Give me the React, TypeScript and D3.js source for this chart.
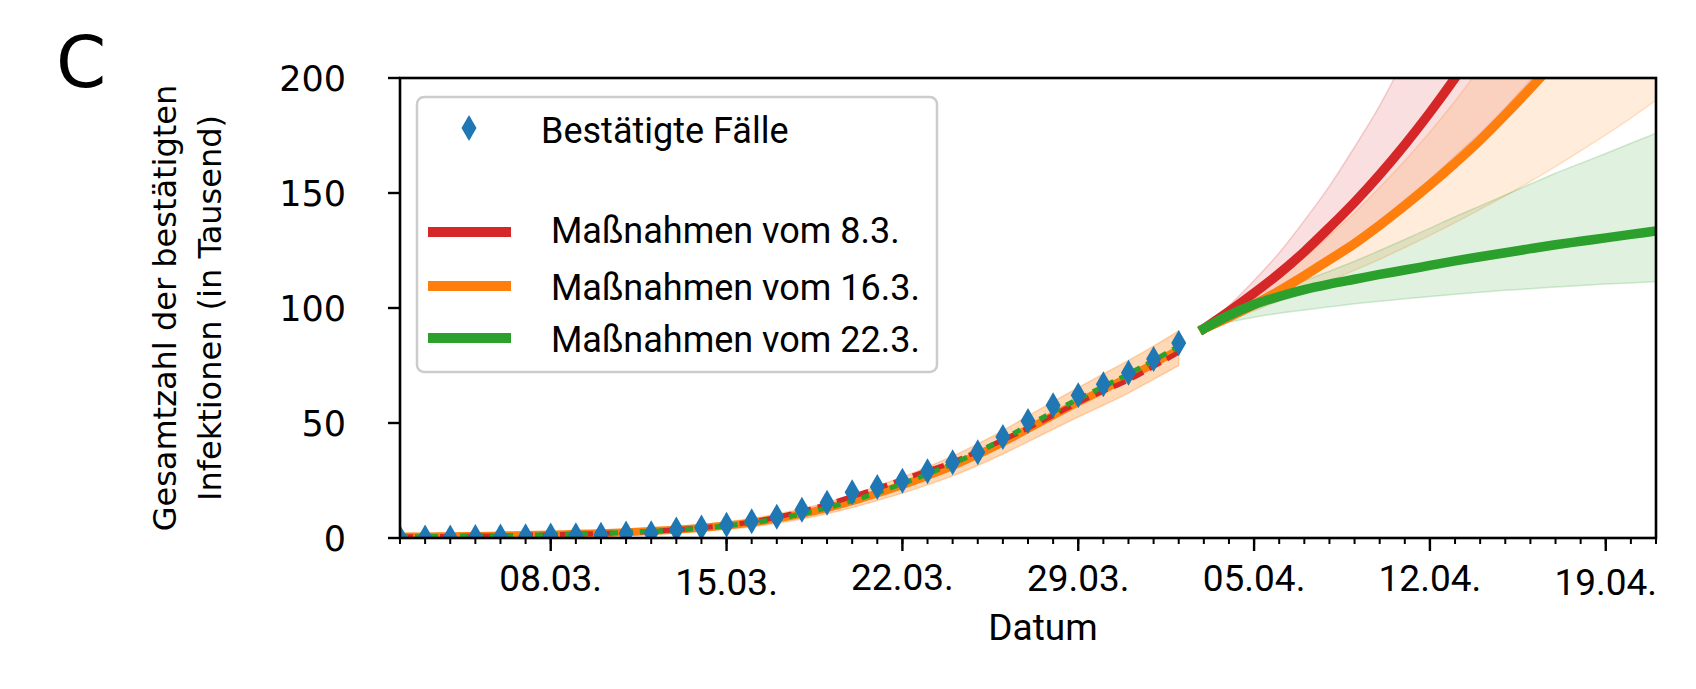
import React from 'react';
import * as d3 from 'd3';

// ---------- data (values in thousands) ----------
const START_DATE = '2020-03-02';
const END_DATE = '2020-04-21';
const FORECAST_START = '2020-04-03';

const confirmed = [0.159, 0.196, 0.262, 0.482, 0.67, 0.799, 1.04, 1.176, 1.457, 1.908, 2.078, 3.675, 4.585, 5.795, 7.272, 9.257, 12.327, 15.32, 19.848, 22.213, 24.873, 29.056, 32.986, 37.323, 43.938, 50.871, 57.695, 62.095, 66.885, 71.808, 77.872, 84.794];

const fitRed = [0.5, 0.6, 0.7, 0.8, 1.0, 1.2, 1.4, 1.7, 2.0, 2.4, 2.9, 3.6, 4.4, 5.5, 7.0, 9.0, 11.6, 14.6, 18.0, 21.6, 25.4, 29.2, 33.0, 37.6, 42.6, 47.7, 53.3, 58.9, 63.9, 68.7, 74.6, 80.8];
const fitOrange = [0.6, 0.7, 0.8, 0.9, 1.1, 1.3, 1.5, 1.8, 2.1, 2.5, 3.0, 3.6, 4.4, 5.4, 6.7, 8.4, 10.5, 13.0, 16.0, 19.4, 23.0, 27.0, 31.3, 36.2, 41.6, 47.4, 53.3, 59.0, 64.5, 70.0, 75.8, 82.0];
const fitGreen = [0.5, 0.6, 0.7, 0.8, 1.0, 1.2, 1.4, 1.7, 2.0, 2.4, 2.9, 3.5, 4.3, 5.3, 6.6, 8.3, 10.5, 13.1, 16.2, 19.7, 23.6, 27.8, 32.3, 37.3, 42.9, 48.9, 54.8, 60.4, 65.8, 71.3, 77.2, 83.4];
const fitOrangeHi = [1.2, 1.3, 1.5, 1.6, 1.9, 2.1, 2.4, 2.8, 3.2, 3.7, 4.3, 5.0, 5.9, 7.0, 8.5, 10.4, 12.7, 15.5, 18.8, 22.5, 26.5, 30.9, 35.6, 40.9, 46.7, 53.0, 59.3, 65.4, 71.3, 77.2, 83.4, 90.0];
const fitOrangeLo = [0.1, 0.1, 0.2, 0.2, 0.3, 0.5, 0.6, 0.8, 1.0, 1.3, 1.7, 2.2, 2.9, 3.8, 4.9, 6.4, 8.3, 10.5, 13.2, 16.3, 19.5, 23.1, 27.0, 31.5, 36.5, 41.8, 47.3, 52.6, 57.7, 63.0, 69.0, 75.0];

const fcRed = [91, 98.5, 106.5, 115, 124.5, 135, 146, 158, 171, 185, 200, 216, 234, 253, 274, 296, 320, 346, 374];
const fcRedHi = [91, 101, 112, 124, 138, 153, 170, 188, 209, 232, 257, 285, 316, 350, 388, 430, 477, 529, 586];
const fcRedLo = [91, 96.5, 102.5, 108.5, 115, 122, 130, 138, 147, 156, 166, 176, 187, 199, 211, 224, 238, 253, 268];
const fcOrange = [91, 96, 101.5, 107.5, 114, 121, 128, 136, 144.5, 153.5, 163, 173, 184, 195.5, 207.5, 220, 234, 248, 263];
const fcOrangeHi = [91, 98, 105.5, 113.5, 122, 131.5, 141.5, 152.5, 164, 176.5, 190, 204.5, 220, 237, 255, 274.5, 295.5, 318, 342];
const fcOrangeLo = [91, 94.8, 98.8, 103, 107.2, 111.7, 116.4, 121.2, 126.3, 131.6, 137.1, 142.9, 148.8, 155, 161.5, 168.3, 175.3, 182.6, 190.3];
const fcGreen = [91, 96.8, 101.5, 105, 108, 110.4, 112.5, 114.6, 116.5, 118.5, 120.5, 122.3, 124, 125.8, 127.5, 129, 130.5, 132, 133.5];
const fcGreenHi = [91.5, 97.5, 102.8, 107.5, 111.8, 116, 120.3, 125, 129.8, 134.7, 139.7, 144.4, 149.1, 153.9, 158.6, 162.9, 167.2, 171.6, 176];
const fcGreenLo = [91, 93.8, 96, 97.7, 99.1, 100.5, 101.8, 102.9, 104, 105, 106, 106.9, 107.7, 108.4, 109.1, 109.8, 110.4, 110.9, 111.4];

const yTicks = [0, 50, 100, 150, 200];
const xTickDates = ['2020-03-08', '2020-03-15', '2020-03-22', '2020-03-29', '2020-04-05', '2020-04-12', '2020-04-19'];
const xTickLabels = ['08.03.', '15.03.', '22.03.', '29.03.', '05.04.', '12.04.', '19.04.'];
const xTickLabelShift = [0, 4, -1, 0, 0, 0, 4];

const legendLabels = ['Bestätigte Fälle', ' Maßnahmen vom 8.3.', ' Maßnahmen vom 16.3.', ' Maßnahmen vom 22.3.'];
const COLORS = { blue: '#1f77b4', red: '#d62728', orange: '#ff7f0e', green: '#2ca02c' };

const DAY = 86400000;
const dateAt = (start: string, i: number) => new Date(Date.parse(start) + i * DAY);

export default function App() {
  const W = 1696, H = 689;
  const L = 400, R = 1656, T = 78, B = 538;
  const x = d3.scaleUtc().domain([new Date(START_DATE), new Date(END_DATE)]).range([L, R]);
  const y = d3.scaleLinear().domain([0, 200]).range([B, T]);

  const lineFrom = (start: string) => d3.line<number>().x((_, i) => x(dateAt(start, i))).y((v) => y(v)).curve(d3.curveMonotoneX);
  const areaFrom = (start: string, lo: number[]) =>
    d3.area<number>().x((_, i) => x(dateAt(start, i))).y0((_, i) => y(lo[i])).y1((v) => y(v)).curve(d3.curveMonotoneX);

  const fitLine = lineFrom(START_DATE);
  const fcLine = lineFrom(FORECAST_START);

  const minorDays = d3.utcDay.range(new Date(START_DATE), new Date(Date.parse(END_DATE) + 1));
  const diamond = 'M0,-13 L7.5,0 L0,13 L-7.5,0 Z';

  const roboto = 'Roboto, sans-serif';
  const dejavu = '"DejaVu Sans", sans-serif';

  const legendRows = [
    { y: 232, base: 243, color: COLORS.red },
    { y: 286, base: 300, color: COLORS.orange },
    { y: 338, base: 352, color: COLORS.green },
  ];

  return (
    <svg width={W} height={H} style={{ position: 'absolute', left: 0, top: 0, background: '#fff' }}>
      <defs>
        <clipPath id="plot">
          <rect x={L} y={T} width={R - L} height={B - T} />
        </clipPath>
      </defs>
      <rect x={0} y={0} width={W} height={H} fill="#fff" />

      <text x={56} y={87} fontFamily={dejavu} fontSize={72} fill="#000">C</text>

      <g clipPath="url(#plot)">
        {/* fit band */}
        <path d={areaFrom(START_DATE, fitOrangeLo)(fitOrangeHi) || ''} fill={COLORS.orange} fillOpacity={0.3} stroke={COLORS.orange} strokeOpacity={0.3} strokeWidth={1.5} />
        {/* forecast bands */}
        <path d={areaFrom(FORECAST_START, fcRedLo)(fcRedHi) || ''} fill={COLORS.red} fillOpacity={0.15} stroke={COLORS.red} strokeOpacity={0.2} strokeWidth={1.5} />
        <path d={areaFrom(FORECAST_START, fcOrangeLo)(fcOrangeHi) || ''} fill={COLORS.orange} fillOpacity={0.15} stroke={COLORS.orange} strokeOpacity={0.2} strokeWidth={1.5} />
        <path d={areaFrom(FORECAST_START, fcGreenLo)(fcGreenHi) || ''} fill={COLORS.green} fillOpacity={0.15} stroke={COLORS.green} strokeOpacity={0.2} strokeWidth={1.5} />

        {/* fit lines */}
        <path d={fitLine(fitOrange) || ''} fill="none" stroke={COLORS.orange} strokeWidth={8} />
        <path d={fitLine(fitRed) || ''} fill="none" stroke={COLORS.red} strokeWidth={5} strokeDasharray="13 7" />
        <path d={fitLine(fitGreen) || ''} fill="none" stroke={COLORS.green} strokeWidth={5} strokeDasharray="8 7" />

        {/* forecast lines */}
        <path d={fcLine(fcRed) || ''} fill="none" stroke={COLORS.red} strokeWidth={9.5} strokeLinecap="square" />
        <path d={fcLine(fcOrange) || ''} fill="none" stroke={COLORS.orange} strokeWidth={9.5} strokeLinecap="square" />
        <path d={fcLine(fcGreen) || ''} fill="none" stroke={COLORS.green} strokeWidth={9.5} strokeLinecap="square" />

        {/* confirmed */}
        {confirmed.map((v, i) => (
          <path key={i} d={diamond} transform={`translate(${x(dateAt(START_DATE, i))},${y(v)})`} fill={COLORS.blue} />
        ))}
      </g>

      {/* spines */}
      <rect x={L} y={T} width={R - L} height={B - T} fill="none" stroke="#000" strokeWidth={2.6} />

      {/* y axis */}
      {yTicks.map((t) => (
        <g key={t}>
          <line x1={L - 12} x2={L} y1={y(t)} y2={y(t)} stroke="#000" strokeWidth={2.4} />
          <text x={346} y={y(t) + 13} textAnchor="end" fontFamily={dejavu} fontSize={35} fill="#000">{t}</text>
        </g>
      ))}
      <text transform="translate(176,308) rotate(-90)" textAnchor="middle" fontFamily={dejavu} fontSize={32} fill="#000">Gesamtzahl der bestätigten</text>
      <text transform="translate(221,308) rotate(-90)" textAnchor="middle" fontFamily={dejavu} fontSize={32} fill="#000">Infektionen (in Tausend)</text>

      {/* x axis */}
      {minorDays.map((d, i) => (
        <line key={i} x1={x(d)} x2={x(d)} y1={B} y2={B + 6} stroke="#000" strokeWidth={2} />
      ))}
      {xTickDates.map((s, i) => (
        <g key={s}>
          <line x1={x(new Date(s))} x2={x(new Date(s))} y1={B} y2={B + 13} stroke="#000" strokeWidth={2.4} />
          <text x={x(new Date(s))} y={591 + xTickLabelShift[i]} textAnchor="middle" fontFamily={roboto} fontSize={37} fill="#000">{xTickLabels[i]}</text>
        </g>
      ))}
      <text x={1043} y={640} textAnchor="middle" fontFamily={roboto} fontSize={37} fill="#000">Datum</text>

      {/* legend */}
      <rect x={417} y={97} width={520} height={275} rx={7} fill="#fff" fillOpacity={0.8} stroke="#cccccc" strokeWidth={2.5} />
      <path d={diamond} transform="translate(469,128)" fill={COLORS.blue} />
      <text x={541} y={143} fontFamily={roboto} fontSize={36} fill="#000">{legendLabels[0]}</text>
      {legendRows.map((r, i) => (
        <g key={i}>
          <line x1={428} x2={511} y1={r.y} y2={r.y} stroke={r.color} strokeWidth={10} />
          <text x={542} y={r.base} fontFamily={roboto} fontSize={36} fill="#000" style={{ whiteSpace: 'pre' }}>{legendLabels[i + 1]}</text>
        </g>
      ))}
    </svg>
  );
}
